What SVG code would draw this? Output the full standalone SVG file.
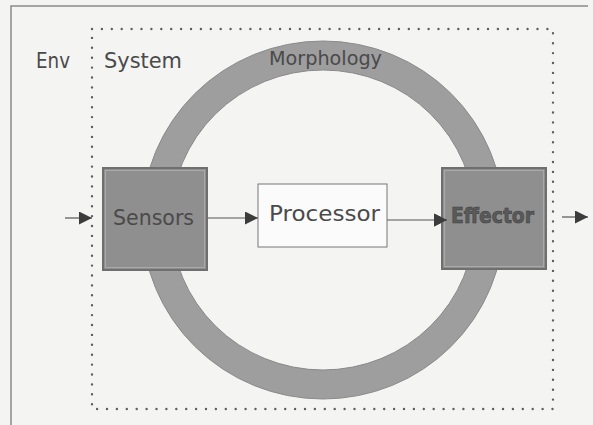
<svg xmlns="http://www.w3.org/2000/svg" width="593" height="425" viewBox="0 0 593 425">
  <style>
    .lbl { font-family: "DejaVu Sans", "Liberation Sans", sans-serif; fill: #4a4a4a; }
    .box { fill: #8f8f8f; stroke: #6f6f6f; stroke-width: 2; }
    .inner { fill: none; stroke: #a9a9a9; stroke-width: 1; }
    .dots { fill: none; stroke: #5e5e5e; stroke-width: 2.4; stroke-linecap: round; stroke-dasharray: 0 9.9; }
    .conn { stroke: #555; stroke-width: 1.2; fill: none; marker-end: url(#head); }
  </style>
  <defs>
    <marker id="head" markerUnits="userSpaceOnUse" markerWidth="14" markerHeight="14" refX="13" refY="6.5" orient="auto">
      <path d="M0,0 L13,6.5 L0,13 z" fill="#3c3c3c"/>
    </marker>
  </defs>

  <!-- background and frame -->
  <rect width="593" height="425" fill="#f4f4f3"/>
  <path d="M11,425 V6 H588" fill="none" stroke="#8a8a8a" stroke-width="1.5"/>

  <!-- system boundary -->
  <rect id="system" class="dots" x="92" y="29" width="461" height="380"/>

  <!-- morphology ring -->
  <g id="morphology">
    <path d="M142,220 a181,179 0 1,0 362,0 a181,179 0 1,0 -362,0 Z M171,220 a152,150 0 1,1 304,0 a152,150 0 1,1 -304,0 Z"
          fill="#9e9e9e" fill-rule="evenodd" stroke="#8a8a8a" stroke-width="1"/>
    <text class="lbl" x="269" y="65" font-size="20" textLength="113" lengthAdjust="spacingAndGlyphs">Morphology</text>
  </g>

  <!-- labels -->
  <text id="env" class="lbl" x="36" y="68" font-size="21" textLength="34" lengthAdjust="spacingAndGlyphs">Env</text>
  <text id="system-label" class="lbl" x="104" y="68" font-size="22" textLength="78" lengthAdjust="spacingAndGlyphs">System</text>

  <!-- connectors -->
  <g id="connectors">
    <line class="conn" x1="65" y1="218" x2="92" y2="218"/>
    <line class="conn" x1="207" y1="218" x2="258" y2="218"/>
    <line class="conn" x1="387" y1="220" x2="447" y2="220"/>
    <line class="conn" x1="562" y1="217" x2="588" y2="217"/>
  </g>

  <g id="sensors">
    <rect class="box" x="103" y="168" width="104" height="102"/>
    <rect class="inner" x="105.5" y="170.5" width="99" height="97"/>
    <text class="lbl" x="113" y="225" font-size="22" textLength="81" lengthAdjust="spacingAndGlyphs">Sensors</text>
  </g>

  <g id="processor">
    <rect x="258" y="184" width="129" height="63" fill="#fbfbfb" stroke="#777" stroke-width="1"/>
    <text class="lbl" x="269" y="221" font-size="22" textLength="111" lengthAdjust="spacingAndGlyphs">Processor</text>
  </g>

  <!-- connector tip overlapping the effector edge -->
  <g id="effector">
    <rect class="box" x="442" y="168" width="104" height="101"/>
    <rect class="inner" x="444.5" y="170.5" width="99" height="96"/>
    <text class="lbl" x="451" y="223" font-size="22" font-weight="bold" textLength="83" lengthAdjust="spacingAndGlyphs" style="fill:#5a5a5a;stroke:#3e3e3e;stroke-width:0.6">Effector</text>
    <line x1="442" y1="220" x2="447" y2="220" stroke="#555" stroke-width="1.2"/>
    <path d="M434,213.5 L447,220 L434,226.5 z" fill="#3c3c3c"/>
  </g>
</svg>
